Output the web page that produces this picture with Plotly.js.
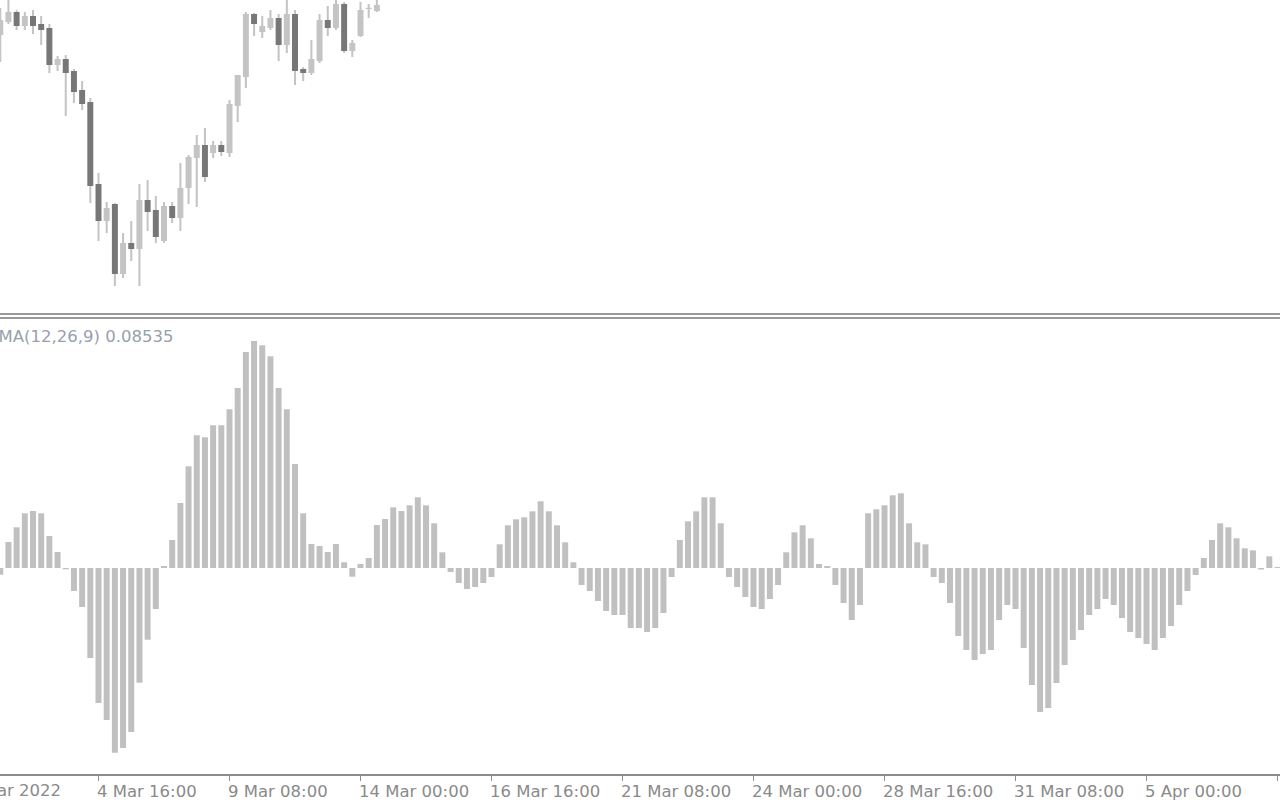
<!DOCTYPE html>
<html><head><meta charset="utf-8">
<script src="https://cdn.plot.ly/plotly-3.0.1.min.js"></script>
<style>html,body{margin:0;padding:0;background:#fff;overflow:hidden}#chart{width:1280px;height:800px}</style>
</head><body><div id="chart"></div>
<script>
// ---- data ----
// OsMA(12,26,9) histogram, one value per H4 bar (bar 0 = 2 Mar 16:00)
const osma = [
 -0.0067, 0.0260, 0.0407, 0.0547, 0.0570, 0.0547, 0.0320, 0.0160, -0.0013, -0.0230,
 -0.0390, -0.0900, -0.1350, -0.1520, -0.1847, -0.1800, -0.1640, -0.1147, -0.0717, -0.0410,
 0.0020, 0.0280, 0.0650, 0.1017, 0.1327, 0.1307, 0.1427, 0.1427, 0.1587, 0.1800,
 0.2160, 0.2270, 0.2227, 0.2117, 0.1800, 0.1587, 0.1040, 0.0547, 0.0240, 0.0220,
 0.0160, 0.0240, 0.0057, -0.0087, 0.0040, 0.0100, 0.0430, 0.0490, 0.0607, 0.0570,
 0.0627, 0.0707, 0.0627, 0.0447, 0.0157, -0.0040, -0.0150, -0.0210, -0.0190, -0.0150,
 -0.0090, 0.0237, 0.0427, 0.0487, 0.0507, 0.0567, 0.0667, 0.0567, 0.0427, 0.0257,
 0.0057, -0.0170, -0.0230, -0.0330, -0.0430, -0.0470, -0.0470, -0.0600, -0.0600, -0.0640,
 -0.0600, -0.0450, -0.0090, 0.0280, 0.0467, 0.0567, 0.0707, 0.0707, 0.0447, -0.0090,
 -0.0190, -0.0290, -0.0390, -0.0410, -0.0310, -0.0170, 0.0157, 0.0357, 0.0427, 0.0297,
 0.0040, 0.0020, -0.0170, -0.0350, -0.0520, -0.0370, 0.0547, 0.0587, 0.0627, 0.0727,
 0.0747, 0.0447, 0.0257, 0.0237, -0.0090, -0.0150, -0.0350, -0.0680, -0.0820, -0.0920,
 -0.0860, -0.0820, -0.0520, -0.0370, -0.0410, -0.0800, -0.1170, -0.1440, -0.1400, -0.1150,
 -0.0970, -0.0720, -0.0620, -0.0470, -0.0410, -0.0310, -0.0370, -0.0500, -0.0640, -0.0700,
 -0.0760, -0.0820, -0.0700, -0.0580, -0.0370, -0.0230, -0.0070, 0.0100, 0.0280, 0.0447,
 0.0407, 0.0297, 0.0197, 0.0177, -0.0015, 0.0117, 0.0010
];

// Price candles visible in the upper window (bars 0..46); later ones lie above the window
const candleOpen = [
 96.5, 97.8, 98.8, 97.4, 98.4, 97.6, 97.2, 93.5, 94.1, 92.9,
 91.0, 89.8, 81.6, 77.9, 79.6, 72.6, 75.7, 75.1, 80.0, 79.0,
 75.9, 79.4, 78.2, 81.2, 84.2, 85.5, 84.7, 85.5, 84.7, 89.4,
 92.3, 98.6, 96.8, 97.2, 98.2, 95.5, 98.6, 93.1, 92.7, 93.9,
 98.0, 97.2, 99.6, 94.9, 96.4, 99.1, 98.9
];
const candleHigh = [
 99.2, 100.3, 99.0, 98.8, 99.0, 98.4, 97.6, 94.4, 94.5, 93.1,
 91.9, 90.2, 82.7, 79.8, 79.7, 76.7, 77.9, 81.6, 82.0, 80.4,
 79.8, 79.8, 83.7, 84.5, 86.5, 87.2, 85.9, 85.9, 90.0, 92.5,
 98.8, 98.7, 98.4, 99.0, 98.6, 100.5, 99.0, 93.3, 96.0, 98.6,
 99.4, 100.3, 99.8, 96.0, 99.8, 99.6, 100.3
];
const candleLow = [
 93.8, 97.6, 97.0, 97.0, 96.6, 95.5, 92.7, 92.9, 88.4, 89.7,
 89.0, 79.7, 75.9, 76.7, 71.4, 72.2, 73.9, 71.4, 76.9, 75.7,
 75.7, 77.7, 76.9, 79.6, 79.3, 81.8, 84.2, 84.4, 84.3, 87.8,
 91.2, 96.4, 96.2, 97.0, 93.9, 94.7, 91.5, 91.9, 92.5, 93.7,
 96.4, 97.0, 94.7, 94.3, 96.3, 98.2, 98.8
];
const candleClose = [
 98.0, 98.8, 97.4, 98.4, 97.4, 97.0, 93.5, 94.1, 92.7, 90.8,
 89.6, 81.4, 77.9, 79.2, 72.6, 75.7, 75.1, 80.0, 78.8, 76.3,
 79.4, 78.2, 81.2, 84.3, 85.5, 82.3, 85.5, 84.8, 89.6, 92.5,
 98.6, 97.6, 97.4, 98.2, 95.5, 98.6, 92.9, 92.7, 94.1, 98.0,
 97.2, 99.6, 94.9, 95.7, 99.0, 99.2, 99.5
];

// time-axis labels (bar index of each label, text)
const tickIndex = [-4, 12, 28, 44, 60, 76, 92, 108, 124, 140, 156];
const tickText = ['2 Mar 2022', '4 Mar 16:00', '9 Mar 08:00', '14 Mar 00:00', '16 Mar 16:00',
  '21 Mar 08:00', '24 Mar 00:00', '28 Mar 16:00', '31 Mar 08:00', '5 Apr 00:00', '7 Apr 16:00'];

const indicatorLabel = 'OsMA(12,26,9) 0.08535';

// ---- build traces ----
const UP = '#c4c4c4', DOWN = '#777777', WICK = '#c4c4c4', HIST = '#c0c0c0';
const FONT = 'DejaVu Sans, Verdana, sans-serif';
const FSIZE = 16.5;

const idx = osma.map((_, i) => i);
const cIdx = candleOpen.map((_, i) => i);

const wick = {
  type: 'bar', x: cIdx, base: candleLow, y: cIdx.map(i => candleHigh[i] - candleLow[i]),
  width: 0.25, marker: {color: WICK, line: {width: 0}}, xaxis: 'x', yaxis: 'y', hoverinfo: 'skip'
};
function bodyTrace(isUp) {
  const xs = [], bs = [], hs = [];
  cIdx.forEach(i => {
    const o = candleOpen[i], c = candleClose[i];
    if ((c >= o) === isUp) {
      xs.push(i); bs.push(Math.min(o, c)); hs.push(Math.max(Math.abs(c - o), 0.12));
    }
  });
  return {type: 'bar', x: xs, base: bs, y: hs, width: 0.73,
    marker: {color: isUp ? UP : DOWN, line: {width: 0}}, xaxis: 'x', yaxis: 'y', hoverinfo: 'skip'};
}
const hist = {
  type: 'bar', x: idx, y: osma, width: 0.73,
  marker: {color: HIST, line: {width: 0}}, xaxis: 'x', yaxis: 'y2', hoverinfo: 'skip'
};

const xRange = [-0.0305, 156.305];

const layout = {
  width: 1280, height: 800,
  margin: {l: 0, r: 0, t: 0, b: 0, pad: 0},
  paper_bgcolor: '#ffffff', plot_bgcolor: '#ffffff',
  showlegend: false, barmode: 'overlay', hovermode: false,
  xaxis: {
    range: xRange, anchor: 'y2', showgrid: false, zeroline: false,
    showline: true, linecolor: '#8c8c8c', linewidth: 2,
    tickmode: 'array', tickvals: tickIndex, ticktext: tickText,
    ticks: 'outside', ticklen: 5, tickwidth: 1, tickcolor: '#8c8c8c',
    ticklabelposition: 'outside right', ticklabelshift: -3, ticklabelstandoff: 1,
    tickfont: {family: FONT, size: FSIZE, color: '#8a8a8a'}
  },
  yaxis: {
    domain: [0.60875, 1], range: [68.7, 100], showgrid: false, zeroline: false,
    showline: false, showticklabels: false, ticks: ''
  },
  yaxis2: {
    domain: [0.0325, 0.60125], range: [-0.206, 0.249], showgrid: false, zeroline: false,
    showline: false, showticklabels: false, ticks: ''
  },
  shapes: [
    {type: 'line', xref: 'paper', yref: 'paper', x0: 0, x1: 1, y0: 1 - 314 / 800, y1: 1 - 314 / 800,
     line: {color: '#999999', width: 2}},
    {type: 'line', xref: 'paper', yref: 'paper', x0: 0, x1: 1, y0: 1 - 318 / 800, y1: 1 - 318 / 800,
     line: {color: '#999999', width: 2}}
  ],
  annotations: [
    {xref: 'paper', yref: 'paper', x: -25 / 1280, y: 1 - 336.5 / 800, xanchor: 'left', yanchor: 'middle',
     text: indicatorLabel, showarrow: false, font: {family: FONT, size: FSIZE, color: '#98a0ac'}},
    {xref: 'paper', yref: 'paper', x: (tickIndex[0] - xRange[0]) / (xRange[1] - xRange[0]) - 2 / 1280,
     y: 1 - 790.5 / 800,
     xanchor: 'left', yanchor: 'middle', text: tickText[0], showarrow: false,
     font: {family: FONT, size: FSIZE, color: '#8a8a8a'}}
  ]
};

Plotly.newPlot('chart', [wick, bodyTrace(true), bodyTrace(false), hist], layout,
  {staticPlot: true, displayModeBar: false});
</script>
</body></html>
